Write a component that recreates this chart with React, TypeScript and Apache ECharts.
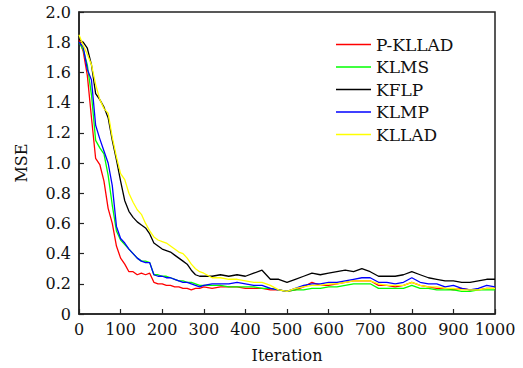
import React, { useEffect, useRef } from "react";
import * as echarts from "echarts";

const iterations = [
  0, 10, 20, 30, 40, 50, 60, 70, 80, 90, 100, 110, 120, 130, 140, 150, 160, 170, 180, 190, 200,
  210, 220, 230, 240, 250, 260, 270, 280, 290, 300,
  320, 340, 360, 380, 400, 420, 440, 460, 480, 500, 520, 540, 560, 580, 600, 620, 640, 660, 680, 700,
  720, 740, 760, 780, 800, 820, 840, 860, 880, 900, 920, 940, 960, 980, 1000,
];

const pKLLAD = [
  1.82, 1.74, 1.58, 1.3, 1.03, 0.99, 0.88, 0.7, 0.6, 0.45, 0.37, 0.33, 0.28, 0.28, 0.26, 0.27, 0.26, 0.27, 0.21, 0.2, 0.2,
  0.19, 0.19, 0.18, 0.18, 0.17, 0.17, 0.16, 0.17, 0.17, 0.18,
  0.17, 0.18, 0.18, 0.18, 0.17, 0.17, 0.17, 0.16, 0.16, 0.15, 0.16, 0.18, 0.21, 0.19, 0.19, 0.2, 0.21, 0.22, 0.22, 0.22,
  0.19, 0.19, 0.18, 0.19, 0.21, 0.19, 0.18, 0.17, 0.17, 0.16, 0.17, 0.16, 0.16, 0.17, 0.17,
];

const kLMS = [
  1.8, 1.75, 1.65, 1.45, 1.15, 1.1, 1.06, 0.92, 0.72, 0.55, 0.49, 0.46, 0.43, 0.4, 0.37, 0.35, 0.35, 0.34, 0.26, 0.26, 0.25,
  0.25, 0.24, 0.23, 0.22, 0.22, 0.21, 0.21, 0.2, 0.19, 0.19,
  0.19, 0.19, 0.18, 0.18, 0.18, 0.18, 0.17, 0.17, 0.16, 0.15, 0.16, 0.16, 0.17, 0.17, 0.18, 0.18, 0.19, 0.2, 0.2, 0.2,
  0.17, 0.17, 0.17, 0.17, 0.19, 0.17, 0.17, 0.16, 0.16, 0.16, 0.15, 0.15, 0.16, 0.16, 0.16,
];

const kFLP = [
  1.82, 1.8, 1.76, 1.65, 1.46, 1.42, 1.37, 1.3, 1.15, 1.02, 0.88, 0.75, 0.68, 0.64, 0.61, 0.59, 0.57, 0.53, 0.47, 0.45, 0.43,
  0.42, 0.41, 0.39, 0.37, 0.35, 0.33, 0.29, 0.26, 0.25, 0.25,
  0.25, 0.26, 0.25, 0.26, 0.25, 0.27, 0.29, 0.23, 0.23, 0.21, 0.23, 0.25, 0.27, 0.26, 0.27, 0.28, 0.29, 0.28, 0.3, 0.28,
  0.25, 0.25, 0.25, 0.26, 0.28, 0.26, 0.24, 0.23, 0.22, 0.22, 0.21, 0.21, 0.22, 0.23, 0.23,
];

const kLMP = [
  1.8, 1.77, 1.62, 1.55, 1.25, 1.16, 1.08, 1.0, 0.85, 0.58, 0.5, 0.47, 0.43, 0.4, 0.37, 0.35, 0.34, 0.34, 0.26, 0.25, 0.25,
  0.24, 0.24, 0.23, 0.22, 0.21, 0.21, 0.2, 0.19, 0.18, 0.19,
  0.2, 0.2, 0.2, 0.21, 0.2, 0.19, 0.19, 0.17, 0.16, 0.15, 0.17, 0.19, 0.2, 0.2, 0.21, 0.21, 0.22, 0.23, 0.24, 0.24,
  0.21, 0.21, 0.2, 0.21, 0.24, 0.21, 0.2, 0.2, 0.18, 0.19, 0.17, 0.16, 0.17, 0.19, 0.18,
];

const kLLAD = [
  1.85, 1.78, 1.72, 1.65, 1.52, 1.42, 1.36, 1.33, 1.17, 1.04, 0.93, 0.89, 0.8, 0.74, 0.69, 0.66, 0.6, 0.55, 0.51, 0.49, 0.48,
  0.47, 0.45, 0.43, 0.41, 0.4, 0.37, 0.33, 0.3, 0.28, 0.27,
  0.24, 0.24, 0.23, 0.23, 0.22, 0.21, 0.21, 0.19, 0.16, 0.15, 0.17, 0.18, 0.19, 0.19, 0.2, 0.2, 0.21, 0.22, 0.22, 0.22,
  0.2, 0.19, 0.19, 0.19, 0.21, 0.19, 0.18, 0.18, 0.17, 0.17, 0.16, 0.16, 0.16, 0.17, 0.17,
];

const seriesNames = ["P-KLLAD", "KLMS", "KFLP", "KLMP", "KLLAD"];
const seriesValues = [pKLLAD, kLMS, kFLP, kLMP, kLLAD];
const seriesColors = ["#ff0000", "#00ff00", "#000000", "#0000ff", "#ffff00"];

const FONT = "'DejaVu Serif', serif";

export default function App() {
  const ref = useRef<HTMLDivElement>(null);
  useEffect(() => {
    if (!ref.current) return;
    const chart = echarts.init(ref.current, undefined, { renderer: "svg" });
    chart.setOption({
      animation: false,
      backgroundColor: "#fff",
      textStyle: { fontFamily: FONT },
      grid: {
        left: 79,
        right: 28,
        top: 12,
        bottom: 54,
        show: true,
        borderColor: "#222",
        borderWidth: 1.5,
        backgroundColor: "transparent",
      },
      legend: {
        orient: "vertical",
        left: 331,
        top: 31,
        icon: "rect",
        itemWidth: 35,
        itemHeight: 1.5,
        itemGap: 5.5,
        data: seriesNames,
        textStyle: { fontFamily: FONT, fontSize: 17, color: "#111" },
      },
      xAxis: {
        type: "value",
        min: 0,
        max: 1000,
        interval: 100,
        name: "Iteration",
        nameLocation: "middle",
        nameGap: 33,
        nameTextStyle: { fontFamily: FONT, fontSize: 16, color: "#111" },
        axisLine: { lineStyle: { color: "#222", width: 1.5 } },
        axisTick: { inside: true, length: 5, lineStyle: { color: "#222", width: 1.2 } },
        axisLabel: {
          fontFamily: FONT,
          fontSize: 16,
          color: "#111",
          margin: 7,
          formatter: (v: number) => String(v),
        },
        splitLine: { show: false },
      },
      yAxis: {
        type: "value",
        min: 0,
        max: 2,
        interval: 0.2,
        name: "MSE",
        nameLocation: "middle",
        nameGap: 50,
        nameTextStyle: { fontFamily: FONT, fontSize: 16, color: "#111" },
        axisLine: { show: true, lineStyle: { color: "#222", width: 1.5 } },
        axisTick: { show: true, inside: true, length: 5, lineStyle: { color: "#222", width: 1.2 } },
        axisLabel: {
          fontFamily: FONT,
          fontSize: 16,
          color: "#111",
          margin: 8,
          formatter: (v: number) => (v === 0 ? "0" : v.toFixed(1)),
        },
        splitLine: { show: false },
      },
      series: seriesNames.map((name, i) => ({
        name,
        type: "line",
        symbol: "none",
        showSymbol: false,
        data: iterations.map((it, j) => [it, seriesValues[i][j]]),
        lineStyle: { color: seriesColors[i], width: 1.3 },
        itemStyle: { color: seriesColors[i] },
      })),
    });
    return () => chart.dispose();
  }, []);
  return (
    <div
      ref={ref}
      style={{ position: "fixed", left: 0, top: 0, width: 523, height: 368 }}
    />
  );
}
